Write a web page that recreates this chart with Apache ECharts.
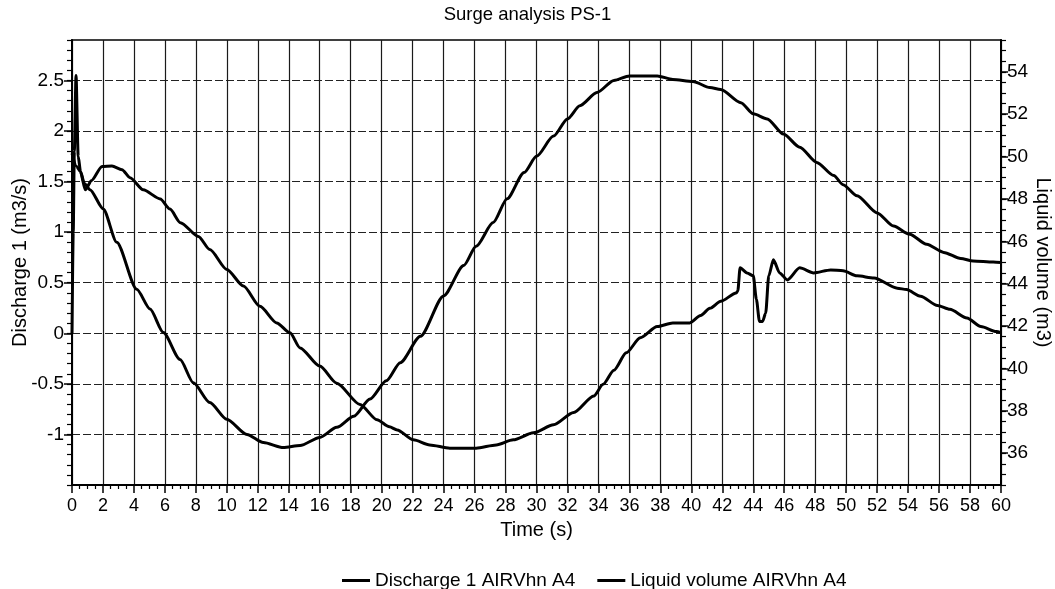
<!DOCTYPE html>
<html>
<head>
<meta charset="utf-8">
<title>Surge analysis PS-1</title>
<script src="https://cdn.jsdelivr.net/npm/echarts@6/dist/echarts.min.js"></script>
<style>
  html, body { margin: 0; padding: 0; background: #fff; }
  #chart { width: 1055px; height: 589px; }
</style>
</head>
<body>
<div id="chart"></div>
<script>
// Discharge 1 (m3/s), left axis
var dischargeTime = [0, 0.08, 0.15, 0.26, 0.4, 0.55, 0.8, 1.16, 2.02, 2.89, 4.18, 5.04, 5.9, 6.98, 7.84,
  8.9, 9.99, 11.3, 12.36, 13.65, 14.73, 16.0, 17.1, 18.2, 19.25, 20.3, 21.2, 22.5, 24.0, 25.3,
  26.1, 27.2, 28.1, 29.2, 30.0, 31.1, 32.0, 32.8, 33.9, 35.0, 36.0, 37.8, 38.8, 40.1, 41.2,
  41.9, 43.2, 44.0, 44.9, 45.95, 47.0, 48.1, 49.2, 49.8, 50.7, 52.0, 53.06, 54.1, 55.2, 56.3,
  57.4, 58.2, 59.5, 60];
var dischargeValues = [0, 1.0, 1.8, 2.55, 1.75, 1.6, 1.48, 1.42, 1.23, 0.9, 0.435, 0.24, 0.007, -0.26, -0.49,
  -0.685, -0.85, -1.0, -1.08, -1.13, -1.11, -1.03, -0.93, -0.82, -0.65, -0.47, -0.29, -0.03, 0.37, 0.67,
  0.86, 1.095, 1.33, 1.59, 1.75, 1.95, 2.12, 2.25, 2.38, 2.5, 2.545, 2.545, 2.51, 2.49, 2.43,
  2.41, 2.28, 2.17, 2.12, 1.97, 1.84, 1.69, 1.56, 1.47, 1.36, 1.19, 1.06, 0.98, 0.88, 0.8,
  0.74, 0.715, 0.705, 0.7];

// Liquid volume (m3), right axis
var volumeTime = [0, 0.3, 0.54, 0.86, 1.25, 1.94, 2.58, 3.23, 3.75, 4.6, 5.7, 6.33, 7.0, 8.16, 8.9,
  10.0, 11.07, 12.14, 13.22, 14.08, 14.73, 16.0, 17.1, 18.6, 19.7, 20.5, 21.0, 22.05, 23.1, 24.4,
  26.1, 27.4, 28.5, 29.8, 31.1, 32.4, 33.7, 34.3, 35.0, 35.8, 36.7, 37.8, 38.8, 39.9, 40.6,
  41.2, 41.9, 42.9, 43.0, 43.15, 43.6, 44.0, 44.2, 44.4, 44.6, 44.8, 45.0, 45.3, 45.7, 46.2,
  47.0, 47.9, 49.0, 49.8, 50.7, 51.8, 53.3, 53.9, 54.8, 55.9, 56.7, 57.8, 58.7, 59.7, 60];
var volumeValues = [50.15, 49.53, 49.29, 48.43, 48.86, 49.53, 49.55, 49.38, 49.0, 48.43, 48.0, 47.52, 46.88, 46.23, 45.61,
  44.67, 43.89, 42.93, 42.15, 41.68, 40.97, 40.11, 39.3, 38.3, 37.58, 37.25, 37.1, 36.63, 36.39, 36.24,
  36.24, 36.39, 36.63, 36.96, 37.34, 37.92, 38.7, 39.25, 39.92, 40.74, 41.45, 41.98, 42.15, 42.15, 42.5,
  42.84, 43.17, 43.56, 43.65, 44.75, 44.51, 44.37, 43.27, 42.22, 42.22, 42.6, 44.37, 45.13, 44.51, 44.18,
  44.75, 44.51, 44.65, 44.61, 44.37, 44.27, 43.79, 43.72, 43.41, 42.97, 42.79, 42.38, 41.98, 41.74, 41.69];

var leftTicks = [-1, -0.5, 0, 0.5, 1, 1.5, 2, 2.5];
var rightTicks = [36, 38, 40, 42, 44, 46, 48, 50, 52, 54];

function pairs(xs, ys) {
  return xs.map(function (x, i) { return [x, ys[i]]; });
}

var font = 'Arial, "Liberation Sans", sans-serif';
var chart = echarts.init(document.getElementById('chart'));

var option = {
  animation: false,
  backgroundColor: '#fff',
  title: {
    text: 'Surge analysis PS-1',
    left: 'center',
    top: 0,
    textStyle: { fontFamily: font, fontSize: 18.5, fontWeight: 'normal', color: '#000' }
  },
  legend: {
    left: 337,
    top: 566,
    itemWidth: 28,
    itemHeight: 3,
    itemGap: 22,
    icon: 'rect',
    textStyle: { fontFamily: font, fontSize: 19, color: '#000' },
    data: ['Discharge 1 AIRVhn A4', 'Liquid volume AIRVhn A4']
  },
  grid: {
    left: 72, right: 54, top: 40, bottom: 104,
    containLabel: false,
    outerBoundsMode: 'none',
    show: true, borderColor: '#000', borderWidth: 1.5
  },
  xAxis: {
    type: 'value',
    min: 0, max: 60, interval: 2,
    name: 'Time (s)',
    nameLocation: 'middle',
    nameGap: 35,
    nameTextStyle: { fontFamily: font, fontSize: 20, color: '#000' },
    axisLine: { show: true, onZero: false, lineStyle: { color: '#000', width: 2 } },
    axisTick: { show: true, length: 8, lineStyle: { color: '#000', width: 1.5 } },
    minorTick: { show: true, splitNumber: 4, length: 4, lineStyle: { color: '#000', width: 1.2 } },
    axisLabel: { margin: 12, fontFamily: font, fontSize: 18, color: '#000' },
    splitLine: { show: true, lineStyle: { color: '#1a1a1a', width: 1.2 } }
  },
  yAxis: [
    {
      type: 'value',
      position: 'left',
      min: -1.5, max: 2.9,
      name: 'Discharge 1 (m3/s)',
      nameLocation: 'middle',
      nameRotate: 90,
      nameGap: 42,
      nameMoveOverlap: false,
      nameTextStyle: { fontFamily: font, fontSize: 20, color: '#000' },
      axisLine: { show: true, onZero: false, lineStyle: { color: '#000', width: 2 } },
      axisTick: { show: true, length: 8, customValues: leftTicks, lineStyle: { color: '#000', width: 1.5 } },
      axisLabel: { margin: 8, customValues: leftTicks, fontFamily: font, fontSize: 19, color: '#000' },
      splitLine: { show: true, lineStyle: { color: '#222', width: 1, type: [8, 3] } }
    },
    {
      type: 'value',
      position: 'right',
      min: 34.5, max: 55.5,
      name: 'Liquid volume (m3)',
      nameLocation: 'middle',
      nameRotate: -90,
      nameGap: 32,
      nameMoveOverlap: false,
      nameTextStyle: { fontFamily: font, fontSize: 20, color: '#000' },
      axisLine: { show: true, onZero: false, lineStyle: { color: '#000', width: 2 } },
      axisTick: { show: true, length: 7, customValues: rightTicks, lineStyle: { color: '#000', width: 1.5 } },
      axisLabel: { margin: 6, customValues: rightTicks, fontFamily: font, fontSize: 19, color: '#000' },
      splitLine: { show: false }
    },
    {
      type: 'value',
      position: 'left',
      min: -1.5, max: 2.9, interval: 0.1,
      axisLine: { show: false, onZero: false },
      axisTick: { show: true, length: 5, lineStyle: { color: '#000', width: 1.2 } },
      axisLabel: { show: false },
      splitLine: { show: false }
    },
    {
      type: 'value',
      position: 'right',
      min: 34.5, max: 55.5, interval: 0.5,
      axisLine: { show: false, onZero: false },
      axisTick: { show: true, length: 5, lineStyle: { color: '#000', width: 1.2 } },
      axisLabel: { show: false },
      splitLine: { show: false }
    }
  ],
  series: [
    {
      name: 'Discharge 1 AIRVhn A4',
      type: 'line',
      yAxisIndex: 0,
      showSymbol: false,
      smooth: 0.25,
      smoothMonotone: 'x',
      color: '#000',
      lineStyle: { color: '#000', width: 3 },
      data: pairs(dischargeTime, dischargeValues)
    },
    {
      name: 'Liquid volume AIRVhn A4',
      type: 'line',
      yAxisIndex: 1,
      showSymbol: false,
      smooth: 0.25,
      smoothMonotone: 'x',
      color: '#000',
      lineStyle: { color: '#000', width: 3 },
      data: pairs(volumeTime, volumeValues)
    }
  ]
};

chart.setOption(option);
</script>
</body>
</html>
